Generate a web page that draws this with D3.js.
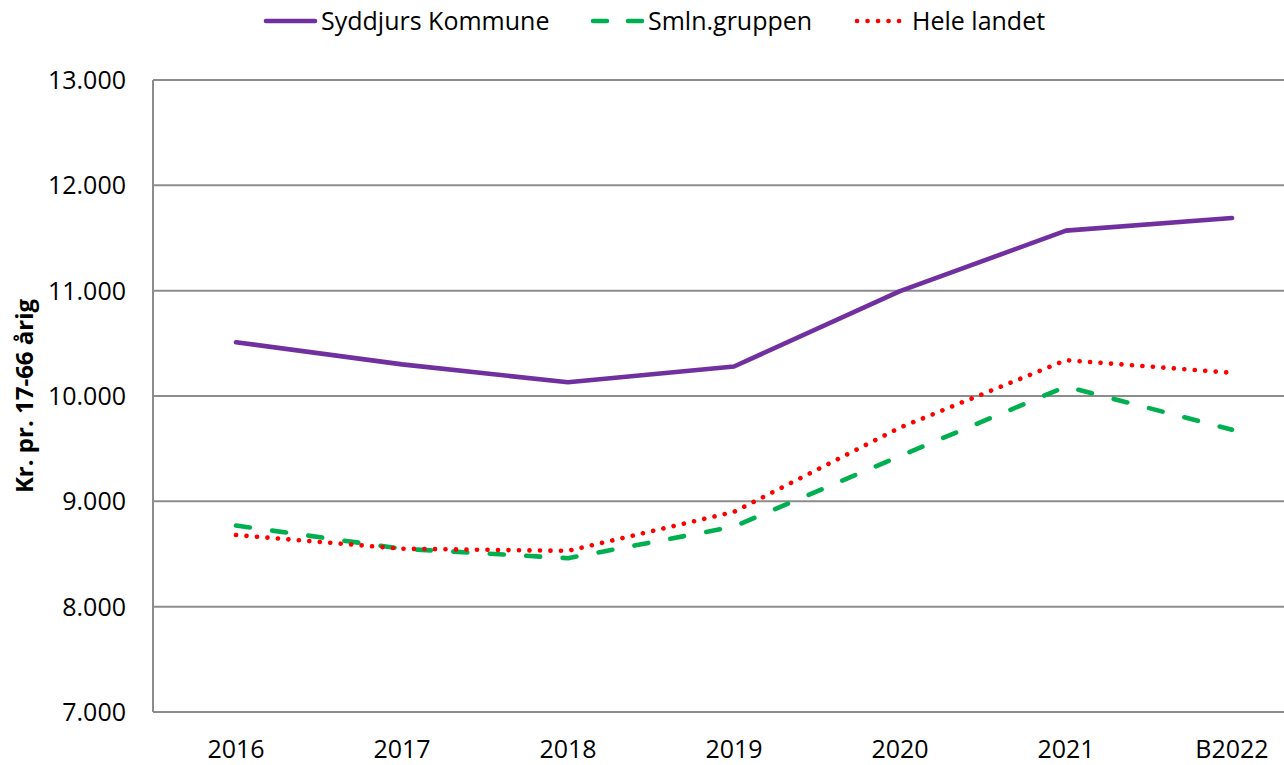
<!DOCTYPE html>
<html>
<head>
  <meta charset="utf-8">
  <title>Syddjurs Kommune</title>
  <script src="https://d3js.org/d3.v7.min.js"></script>
  <style>
    body { margin: 0; background: #fff; }
    svg { display: block; font-family: "Open Sans", sans-serif; }
    .grid line { stroke: #8c8c8c; stroke-width: 2px; }
    .tick-label { font-size: 25px; fill: #000; }
    .line { fill: none; stroke-width: 4.6px; }
  </style>
</head>
<body>
  <svg id="chart" width="1284" height="765"></svg>
  <script>
    // data
    const years = ["2016", "2017", "2018", "2019", "2020", "2021", "B2022"];
    const syddjurs = [10510, 10300, 10130, 10280, 10995, 11570, 11690];
    const smlnGruppen = [8770, 8550, 8460, 8760, 9430, 10090, 9680];
    const heleLandet = [8680, 8550, 8530, 8900, 9700, 10340, 10220];
    const yTicks = [7000, 8000, 9000, 10000, 11000, 12000, 13000];

    const series = [
      { name: "Syddjurs Kommune", values: syddjurs, color: "#7030A0", dash: null, cap: "round" },
      { name: "Smln.gruppen", values: smlnGruppen, color: "#00B050", dash: "14,22.5", cap: "round" },
      { name: "Hele landet", values: heleLandet, color: "#FF0000", dash: "0.1,10.4", cap: "round" }
    ];

    const svg = d3.select("#chart");
    const plot = { left: 153, top: 80, bottom: 712, step: 166 };

    // band scale; the right end runs past the picture edge, as in the original
    const x = d3.scaleBand()
      .domain(years)
      .range([plot.left, plot.left + plot.step * years.length]);
    const cx = d => x(d) + x.bandwidth() / 2;

    const y = d3.scaleLinear().domain([7000, 13000]).range([plot.bottom, plot.top]);

    const fmt = v => d3.format(",")(v).replace(/,/g, ".");

    // gridlines
    const grid = svg.append("g").attr("class", "grid");
    grid.selectAll("line.h")
      .data(yTicks)
      .enter()
      .append("line")
      .attr("class", "h")
      .attr("x1", plot.left)
      .attr("x2", x.range()[1])
      .attr("y1", d => y(d))
      .attr("y2", d => y(d));
    grid.append("line")
      .attr("x1", plot.left).attr("x2", plot.left)
      .attr("y1", y(13000)).attr("y2", y(7000));

    // y tick labels
    svg.append("g")
      .selectAll("text")
      .data(yTicks)
      .enter()
      .append("text")
      .attr("class", "tick-label")
      .attr("x", 126)
      .attr("y", d => y(d))
      .attr("dy", "0.36em")
      .attr("text-anchor", "end")
      .text(fmt);

    // x tick labels
    svg.append("g")
      .selectAll("text")
      .data(years)
      .enter()
      .append("text")
      .attr("class", "tick-label")
      .attr("x", d => cx(d))
      .attr("y", 758)
      .attr("text-anchor", "middle")
      .text(d => d);

    // y axis title
    svg.append("text")
      .attr("transform", `translate(33,${(plot.top + plot.bottom) / 2}) rotate(-90)`)
      .attr("text-anchor", "middle")
      .style("font-size", "24px")
      .style("font-weight", "bold")
      .text("Kr. pr. 17-66 årig");

    // lines
    const line = d3.line()
      .x((d, i) => cx(years[i]))
      .y(d => y(d));

    svg.append("g")
      .selectAll("path")
      .data(series)
      .enter()
      .append("path")
      .attr("class", "line")
      .attr("d", d => line(d.values))
      .attr("stroke", d => d.color)
      .attr("stroke-dasharray", d => d.dash)
      .attr("stroke-linecap", d => d.cap)
      .attr("stroke-linejoin", "round");

    // legend
    const legendX = [266, 593, 857];
    const legend = svg.append("g")
      .selectAll("g")
      .data(series)
      .enter()
      .append("g")
      .attr("transform", (d, i) => `translate(${legendX[i]},21)`);

    legend.append("line")
      .attr("x1", 0).attr("x2", 49)
      .attr("y1", 0).attr("y2", 0)
      .attr("stroke", d => d.color)
      .attr("stroke-width", 4.6)
      .attr("stroke-dasharray", (d, i) => i === 1 ? "14,21" : d.dash)
      .attr("stroke-linecap", d => d.cap);

    legend.append("text")
      .attr("x", 55)
      .attr("dy", "0.36em")
      .style("font-size", "25px")
      .text(d => d.name);
  </script>
</body>
</html>
